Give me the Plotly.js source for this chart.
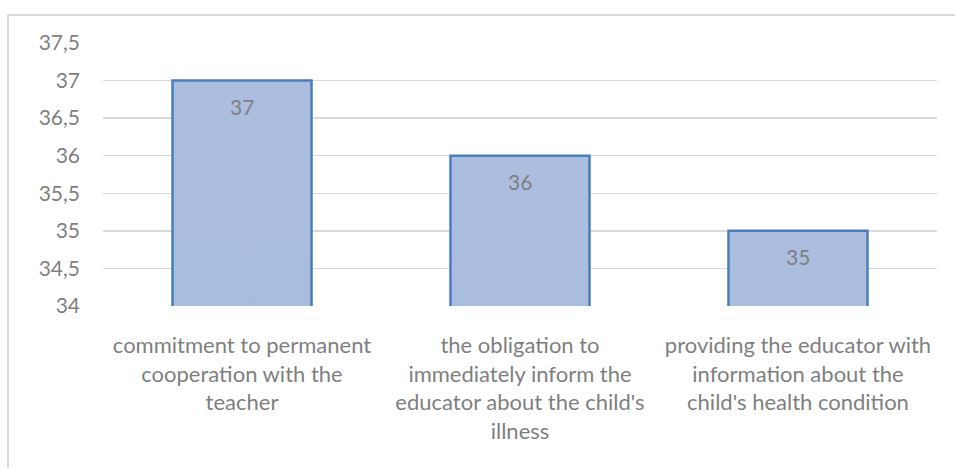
<!DOCTYPE html>
<html>
<head>
<meta charset="utf-8">
<script src="https://cdn.plot.ly/plotly-3.0.1.min.js"></script>
<style>
html,body{margin:0;padding:0;background:#fff;}
#wrap{position:relative;width:955px;height:468px;overflow:hidden;}
#chart{position:absolute;left:0;top:0;width:955px;height:468px;}
#frame{position:absolute;left:7px;top:14px;width:1000px;height:500px;border:2px solid #d9d9d9;pointer-events:none;box-sizing:border-box;}
</style>
</head>
<body>
<div id="wrap">
<div id="chart"></div>
<div id="frame"></div>
</div>
<script>
var categories = [
  "commitment to permanent<br>cooperation with the<br>teacher",
  "the obligation to<br>immediately inform the<br>educator about the child's<br>illness",
  "providing the educator with<br>information about the<br>child's health condition"
];
var values = [37, 36, 35];
var yTicks = [34, 34.5, 35, 35.5, 36, 36.5, 37, 37.5];

var fontFam = "Lato, 'Open Sans', sans-serif";
var grey = "#7f7f7f";

var trace = {
  type: "bar",
  x: categories,
  y: values,
  width: 0.5,
  marker: {color: "#9cb3d9", line: {color: "#4a7ebb", width: 2.5}},
  hoverinfo: "none"
};

var annotations = categories.map(function (c, i) {
  return {
    x: c, y: values[i], xref: "x", yref: "y",
    text: String(values[i]), showarrow: false,
    yanchor: "top", yshift: -11,
    font: {family: fontFam, size: 21, color: grey}
  };
});

var layout = {
  width: 955, height: 468,
  margin: {l: 103, r: 18, t: 43, b: 162},
  paper_bgcolor: "#fff", plot_bgcolor: "#fff",
  separators: ", ",
  showlegend: false,
  bargap: 0.5,
  font: {family: fontFam, color: grey, size: 21},
  xaxis: {
    type: "category",
    showgrid: false, zeroline: false, showline: false,
    ticks: "", ticklabelstandoff: 24,
    tickfont: {family: fontFam, size: 22, color: grey}
  },
  yaxis: {
    range: [34, 37.5],
    tickvals: yTicks,
    showgrid: true, gridcolor: "#d9d9d9", gridwidth: 1.5,
    zeroline: false, showline: false,
    ticks: "", ticklabelstandoff: 22,
    tickfont: {family: fontFam, size: 21, color: grey}
  },
  annotations: annotations
};

Plotly.newPlot("chart", [trace], layout, {staticPlot: true, displayModeBar: false}).then(function () {
  var svg = document.querySelector("#chart svg.main-svg");
  var ns = "http://www.w3.org/2000/svg";
  var defs = document.createElementNS(ns, "defs");
  var g = document.createElementNS(ns, "linearGradient");
  g.setAttribute("id", "barGrad");
  g.setAttribute("x1", "0"); g.setAttribute("y1", "0");
  g.setAttribute("x2", "0"); g.setAttribute("y2", "1");
  [["0", "#abbedf"], ["1", "#8aa7d5"]].forEach(function (s) {
    var st = document.createElementNS(ns, "stop");
    st.setAttribute("offset", s[0]);
    st.setAttribute("stop-color", s[1]);
    g.appendChild(st);
  });
  defs.appendChild(g);
  svg.insertBefore(defs, svg.firstChild);
  document.querySelectorAll("#chart .bars path").forEach(function (p) {
    p.style.fill = "url(#barGrad)";
    p.setAttribute("fill", "url(#barGrad)");
  });
});
</script>
</body>
</html>
